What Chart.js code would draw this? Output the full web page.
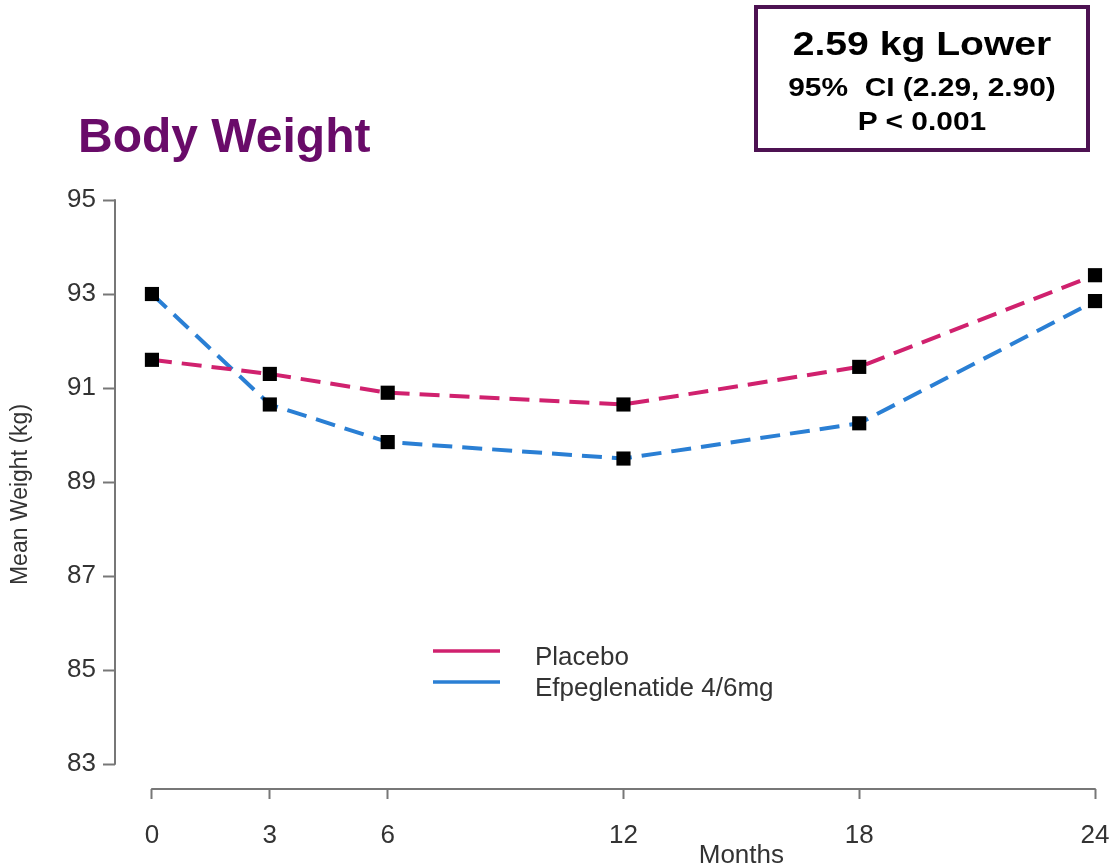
<!DOCTYPE html>
<html>
<head>
<meta charset="utf-8">
<title>Body Weight</title>
<script src="https://cdn.jsdelivr.net/npm/chart.js@4.4.0/dist/chart.umd.min.js"></script>
<style>
    body { margin: 0; background: #fff; font-family: 'Liberation Sans', Arial, sans-serif; }
    #wrap { position: relative; width: 1112px; height: 867px; overflow: hidden; }
    #weight { position: absolute; left: 0; top: 0; }
    .title {
        position: absolute; left: 78px; top: 112px;
        font-size: 48px; line-height: 48px; font-weight: bold; color: #690b69;
    }
    .stat {
        position: absolute; left: 754px; top: 5px; width: 328px; height: 125px;
        border: 4px solid #4d1252; text-align: center; font-weight: bold; color: #000;
        padding-top: 14px; box-sizing: content-box;
    }
    .stat div { transform: scaleX(1.15); white-space: pre; }
    .stat .big { font-size: 34px; line-height: 40px; margin-bottom: 7px; }
    .stat .small { font-size: 26px; line-height: 34px; }
</style>
</head>
<body>
<div id="wrap">
    <canvas id="weight" width="1112" height="867"></canvas>
    <div class="title">Body Weight</div>
    <div class="stat">
        <div class="big">2.59 kg Lower</div>
        <div class="small">95%  CI (2.29, 2.90)</div>
        <div class="small">P &lt; 0.001</div>
    </div>
</div>
<script>

// Data {

    const months = [0, 3, 6, 12, 18, 24];

    const placebo = [91.6, 91.3, 90.9, 90.65, 91.45, 93.4];

    const efpeglenatide = [93.0, 90.65, 89.85, 89.5, 90.25, 92.85];

    const yTicks = [83, 85, 87, 89, 91, 93, 95];

    const names = ['Placebo', 'Efpeglenatide 4/6mg'];

    const colors = ['#d0216e', '#2a7fd4'];

// };

// Axis lines, legend and x title, drawn R style {

    const rAxes = {
        id: 'rAxes',
        afterDraw(chart) {
            const { ctx, chartArea, scales: { x, y } } = chart;
            ctx.save();

            ctx.strokeStyle = '#777';
            ctx.lineWidth = 2;
            ctx.lineCap = 'round';
            ctx.beginPath();
            ctx.moveTo(chartArea.left, y.getPixelForValue(yTicks[0]));
            ctx.lineTo(chartArea.left, y.getPixelForValue(yTicks[yTicks.length - 1]));
            ctx.moveTo(x.getPixelForValue(months[0]), chartArea.bottom);
            ctx.lineTo(x.getPixelForValue(months[months.length - 1]), chartArea.bottom);
            ctx.stroke();

            // legend
            ctx.lineCap = 'butt';
            ctx.font = "26px 'Liberation Sans', Arial, sans-serif";
            ctx.textBaseline = 'alphabetic';
            chart.data.datasets.forEach((ds, i) => {
                const ly = 651 + i * 31;
                ctx.strokeStyle = ds.borderColor;
                ctx.lineWidth = 3.5;
                ctx.beginPath();
                ctx.moveTo(433, ly);
                ctx.lineTo(500, ly);
                ctx.stroke();
                ctx.fillStyle = '#333';
                ctx.fillText(ds.label, 535, ly + 14);
            });

            // x title
            ctx.textAlign = 'center';
            ctx.textBaseline = 'middle';
            ctx.fillText('Months', x.getPixelForValue(15), 856);

            ctx.restore();
        }
    };

// };

// Chart {

    Chart.defaults.font.family = "'Liberation Sans', Arial, sans-serif";
    Chart.defaults.color = '#333';

    const series = [placebo, efpeglenatide].map((vals, i) => ({
        label: names[i],
        data: months.map((m, j) => ({ x: m, y: vals[j] })),
        borderColor: colors[i],
        borderWidth: 4,
        borderDash: [20, 10],
        pointStyle: 'rect',
        pointRadius: 10,
        pointHoverRadius: 10,
        pointBackgroundColor: '#000',
        pointBorderColor: '#000',
        pointBorderWidth: 0,
        clip: false
    }));

    new Chart(document.getElementById('weight'), {
        type: 'line',
        data: { datasets: series },
        options: {
            responsive: false,
            animation: false,
            layout: { padding: { top: 200, right: 17, bottom: 0, left: 7 } },
            plugins: {
                legend: { display: false },
                tooltip: { enabled: false }
            },
            scales: {
                x: {
                    type: 'linear',
                    min: -0.94,
                    max: 24,
                    afterBuildTicks: (s) => { s.ticks = months.map(v => ({ value: v })); },
                    afterFit: (s) => {
                        s.height = 78;
                        s.paddingLeft = 0;
                        s.paddingRight = 0;
                    },
                    border: { display: false },
                    grid: { drawOnChartArea: false, drawTicks: true, tickLength: 10, tickColor: '#777', tickWidth: 2 },
                    ticks: { font: { size: 26 }, padding: 21, autoSkip: false, maxRotation: 0 }
                },
                y: {
                    min: 82.47,
                    max: 95,
                    afterBuildTicks: (s) => { s.ticks = yTicks.map(v => ({ value: v })); },
                    afterFit: (s) => { s.width = 108; },
                    border: { display: false },
                    grid: { drawOnChartArea: false, drawTicks: true, tickLength: 12, tickColor: '#777', tickWidth: 2 },
                    ticks: { font: { size: 26 }, padding: 7 },
                    title: {
                        display: true,
                        text: 'Mean Weight (kg)',
                        font: { size: 23 },
                        color: '#333',
                        padding: { top: 0, bottom: 0 }
                    }
                }
            }
        },
        plugins: [rAxes]
    });

// };

</script>
</body>
</html>
